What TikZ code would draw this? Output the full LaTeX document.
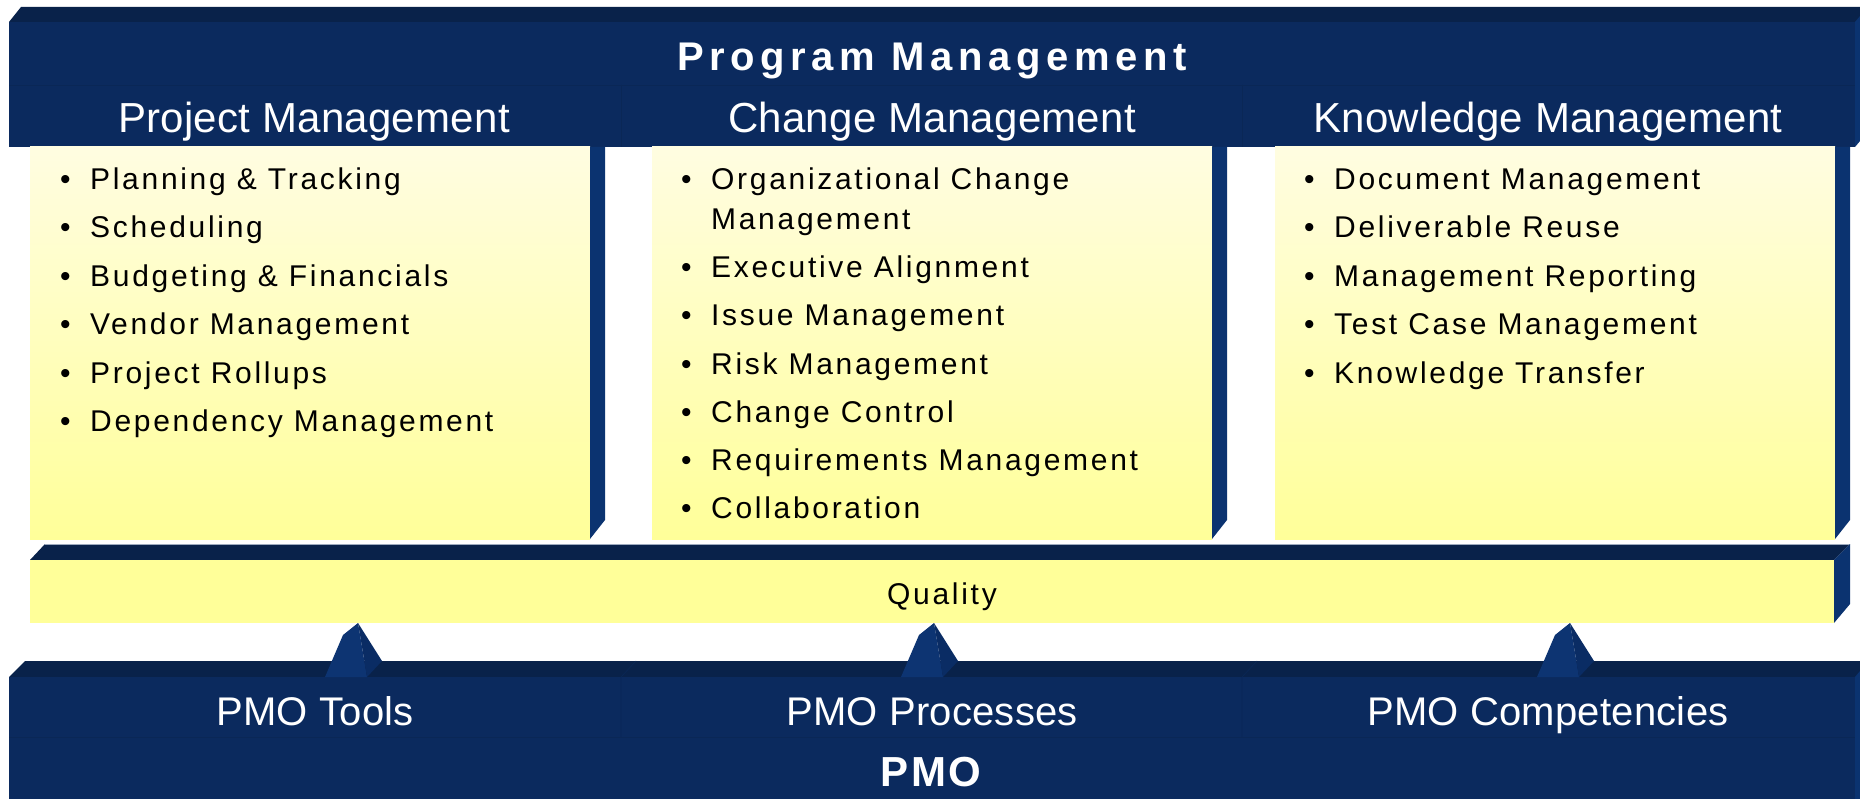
\documentclass[tikz,border=0pt]{standalone}
\usepackage{fontspec}
\setmainfont{Liberation Sans}
\newfontfamily\itemfont[LetterSpace=9]{Liberation Sans}
\newfontfamily\titlefont[LetterSpace=14]{Liberation Sans}
\newfontfamily\headfont[LetterSpace=0.6]{Liberation Sans}
\newfontfamily\pmofont[LetterSpace=6]{Liberation Sans}
\usepackage{tikz}
\usetikzlibrary{positioning, calc}

\definecolor{navy}{RGB}{11,42,94}
\definecolor{navytop}{RGB}{9,34,74}
\definecolor{navyside}{RGB}{11,51,112}
\definecolor{pyrfront}{RGB}{13,52,114}
\definecolor{pyrside}{RGB}{10,44,100}
\definecolor{pale}{RGB}{255,253,225}
\definecolor{lemon}{RGB}{255,255,153}

\tikzset{
  front/.style={fill=navy},
  topface/.style={fill=navytop},
  sideface/.style={fill=navyside},
  column/.style={top color=pale, bottom color=lemon},
  seam/.style={draw=navy!92!black, line width=0.6pt},
  head/.style={text=white, inner sep=0pt, anchor=base, font=\headfont\fontsize{42}{46}\selectfont},
  bighead/.style={text=white, inner sep=0pt, anchor=base, font=\titlefont\bfseries\fontsize{40}{44}\selectfont},
  item/.style={inner sep=0pt, anchor=base west, font=\itemfont\fontsize{30}{34}\selectfont},
}
\newcommand{\bul}{\makebox[30pt][l]{\textbullet}}

\begin{document}
\begin{tikzpicture}[x=1pt, y=-1pt]
    \useasboundingbox (0,0) rectangle (1860,799);

    % Program Management bar
    \fill[topface] (9,22) -- (21,7) -- (1860,7) -- (1860,22) -- cycle;
    \fill[front] (9,22) rectangle (1855,147);
    \fill[sideface] (1855,22) -- (1860,16) -- (1860,141) -- (1855,147) -- cycle;
    \draw[seam] (9,85) -- (1855,85);
    \draw[seam] (621,85) -- (621,147);
    \draw[seam] (1242,85) -- (1242,147);

    % Columns
    \fill[column] (30,147) rectangle (590,539);
    \fill[sideface] (590,147) -- (605,147) -- (605,520) -- (590,539) -- cycle;
    \fill[column] (652,147) rectangle (1212,539);
    \fill[sideface] (1212,147) -- (1227,147) -- (1227,520) -- (1212,539) -- cycle;
    \fill[column] (1275,147) rectangle (1835,539);
    \fill[sideface] (1835,147) -- (1850,147) -- (1850,520) -- (1835,539) -- cycle;

    % Quality bar
    \fill[topface] (30,560) -- (45,544) -- (1850,544) -- (1834,560) -- cycle;
    \draw[navy!40!white, line width=1pt] (45,544) -- (1850,544);
    \fill[lemon] (30,560) rectangle (1834,623);
    \fill[sideface] (1834,560) -- (1850,544) -- (1850,604) -- (1834,623) -- cycle;

    % PMO bar
    \fill[topface] (9,677) -- (25,661) -- (1860,661) -- (1860,677) -- cycle;
    \fill[front] (9,677) rectangle (1855,799);
    \fill[sideface] (1855,677) -- (1860,671) -- (1860,799) -- (1855,799) -- cycle;
    \draw[seam] (9,737) -- (1855,737);
    \draw[seam] (621,677) -- (621,737) (621,677) -- (636,661);
    \draw[seam] (1242,677) -- (1242,737) (1242,677) -- (1257,661);

    % Pyramids
    \fill[pyrfront] (358,623) -- (343,635) -- (325,677) -- (367,677) -- cycle;
    \fill[pyrside] (358,623) -- (367,677) -- (382,661) -- cycle;
    \fill[pyrfront] (934,623) -- (919,635) -- (901,677) -- (943,677) -- cycle;
    \fill[pyrside] (934,623) -- (943,677) -- (958,661) -- cycle;
    \fill[pyrfront] (1570,623) -- (1555,635) -- (1537,677) -- (1579,677) -- cycle;
    \fill[pyrside] (1570,623) -- (1579,677) -- (1594,661) -- cycle;

    % Headings
    \node (pgm) [bighead] at (932,71) {Program Management};
    \node (prj) [head] at (314,133) {Project Management};
    \node (chg) [head] at (932,133) {Change Management};
    \node (knw) [head] at (1548,133) {Knowledge Management};

    % Project Management items
    \node (p1) [item] at (60,190) {\bul Planning \& Tracking};
    \node (p2) [item] at (60,238) {\bul Scheduling};
    \node (p3) [item] at (60,287) {\bul Budgeting \& Financials};
    \node (p4) [item] at (60,335) {\bul Vendor Management};
    \node (p5) [item] at (60,383) {\bul Project Rollups};
    \node (p6) [item] at (60,431) {\bul Dependency Management};

    % Change Management items
    \node (c1) [item] at (681,190) {\bul Organizational Change};
    \node (c1b) [item] at (711,230) {Management};
    \node (c2) [item] at (681,278) {\bul Executive Alignment};
    \node (c3) [item] at (681,326) {\bul Issue Management};
    \node (c4) [item] at (681,374) {\bul Risk Management};
    \node (c5) [item] at (681,422) {\bul Change Control};
    \node (c6) [item] at (681,470) {\bul Requirements Management};
    \node (c7) [item] at (681,518) {\bul Collaboration};

    % Knowledge Management items
    \node (k1) [item] at (1304,190) {\bul Document Management};
    \node (k2) [item] at (1304,238) {\bul Deliverable Reuse};
    \node (k3) [item] at (1304,287) {\bul Management Reporting};
    \node (k4) [item] at (1304,335) {\bul Test Case Management};
    \node (k5) [item] at (1304,383) {\bul Knowledge Transfer};

    % Quality and PMO
    \node (qual) [item, anchor=base] at (942,604) {Quality};
    \node (tools) [head, font=\headfont\fontsize{40}{44}\selectfont] at (315,725) {PMO Tools};
    \node (procs) [head, font=\headfont\fontsize{40}{44}\selectfont] at (932,725) {PMO Processes};
    \node (comps) [head, font=\headfont\fontsize{40}{44}\selectfont] at (1548,725) {PMO Competencies};
    \node (pmo) [head, font=\pmofont\bfseries\fontsize{42}{46}\selectfont] at (931,786) {PMO};
\end{tikzpicture}
\end{document}
